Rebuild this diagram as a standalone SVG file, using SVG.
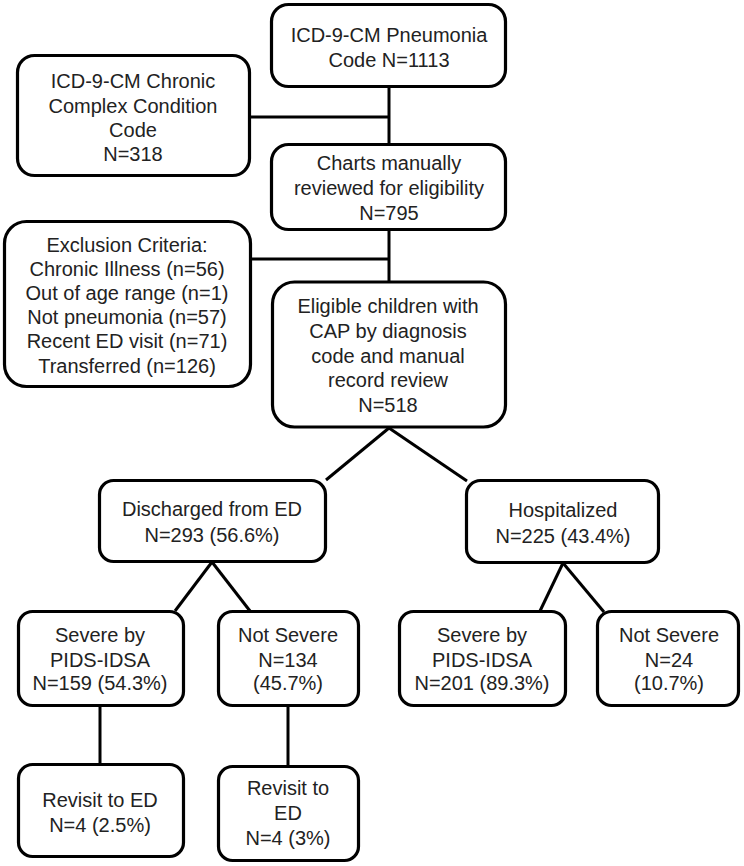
<svg xmlns="http://www.w3.org/2000/svg" width="744" height="866" viewBox="0 0 744 866">
<style>
.box{fill:#fff;stroke:#000;stroke-width:3.2}
.c{stroke:#000;stroke-width:3;fill:none}
text{font-family:"Liberation Sans",Arial,sans-serif;font-size:20px;fill:#222;text-anchor:middle}
</style>
<rect width="744" height="866" fill="#fff"/>
<g id="connectors">
<line class="c" x1="389" y1="88" x2="389" y2="144"/>
<line class="c" x1="250" y1="117" x2="389" y2="117"/>
<line class="c" x1="389" y1="230" x2="389" y2="282"/>
<line class="c" x1="251" y1="259" x2="389" y2="259"/>
<line class="c" x1="389" y1="428" x2="326" y2="480"/>
<line class="c" x1="389" y1="428" x2="467" y2="481"/>
<line class="c" x1="212" y1="562" x2="175" y2="611"/>
<line class="c" x1="212" y1="562" x2="250" y2="611"/>
<line class="c" x1="563" y1="563" x2="540" y2="611"/>
<line class="c" x1="563" y1="563" x2="604" y2="612"/>
<line class="c" x1="100" y1="706" x2="100" y2="764"/>
<line class="c" x1="288" y1="706" x2="288" y2="766"/>
</g>
<g id="pneumonia">
<rect class="box" x="271.5" y="4.5" width="234" height="82" rx="17"/>
<text x="389" y="42">ICD-9-CM Pneumonia</text>
<text x="389" y="67">Code N=1113</text>
</g>
<g id="chronic">
<rect class="box" x="17.5" y="55.5" width="232" height="120" rx="17"/>
<text x="133" y="88">ICD-9-CM Chronic</text>
<text x="133" y="113">Complex Condition</text>
<text x="133" y="137">Code</text>
<text x="133" y="161">N=318</text>
</g>
<g id="charts">
<rect class="box" x="271.5" y="144.5" width="234" height="85" rx="17"/>
<text x="389" y="170">Charts manually</text>
<text x="389" y="195">reviewed for eligibility</text>
<text x="389" y="220">N=795</text>
</g>
<g id="exclusion">
<rect class="box" x="4.5" y="221.5" width="246" height="165" rx="22"/>
<text x="127" y="252">Exclusion Criteria:</text>
<text x="127" y="276">Chronic Illness (n=56)</text>
<text x="127" y="300">Out of age range (n=1)</text>
<text x="127" y="324">Not pneumonia (n=57)</text>
<text x="127" y="348">Recent ED visit (n=71)</text>
<text x="127" y="373">Transferred (n=126)</text>
</g>
<g id="eligible">
<rect class="box" x="272.5" y="282" width="233" height="145" rx="22"/>
<text x="388" y="313">Eligible children with</text>
<text x="388" y="338">CAP by diagnosis</text>
<text x="388" y="363">code and manual</text>
<text x="388" y="387">record review</text>
<text x="388" y="412">N=518</text>
</g>
<g id="discharged">
<rect class="box" x="99.5" y="480.5" width="226" height="81" rx="14"/>
<text x="212" y="516">Discharged from ED</text>
<text x="212" y="542">N=293 (56.6%)</text>
</g>
<g id="hospitalized">
<rect class="box" x="466.5" y="480.5" width="192" height="82" rx="14"/>
<text x="563" y="517">Hospitalized</text>
<text x="563" y="543">N=225 (43.4%)</text>
</g>
<g id="severe-discharged">
<rect class="box" x="18.5" y="611.5" width="165" height="94" rx="14"/>
<text x="100" y="642">Severe by</text>
<text x="100" y="667">PIDS-IDSA</text>
<text x="100" y="690">N=159 (54.3%)</text>
</g>
<g id="notsevere-discharged">
<rect class="box" x="218.5" y="611.5" width="140" height="94" rx="14"/>
<text x="288" y="642">Not Severe</text>
<text x="288" y="667">N=134</text>
<text x="288" y="690">(45.7%)</text>
</g>
<g id="severe-hospitalized">
<rect class="box" x="399.5" y="611.5" width="166" height="94" rx="14"/>
<text x="482" y="642">Severe by</text>
<text x="482" y="667">PIDS-IDSA</text>
<text x="482" y="690">N=201 (89.3%)</text>
</g>
<g id="notsevere-hospitalized">
<rect class="box" x="597.5" y="611.5" width="141" height="94" rx="14"/>
<text x="669" y="642">Not Severe</text>
<text x="669" y="667">N=24</text>
<text x="669" y="690">(10.7%)</text>
</g>
<g id="revisit-severe">
<rect class="box" x="18.5" y="764.5" width="165" height="92" rx="14"/>
<text x="100" y="807">Revisit to ED</text>
<text x="100" y="832">N=4 (2.5%)</text>
</g>
<g id="revisit-notsevere">
<rect class="box" x="218.5" y="766.5" width="140" height="94" rx="14"/>
<text x="288" y="795">Revisit to</text>
<text x="288" y="820">ED</text>
<text x="288" y="845">N=4 (3%)</text>
</g>
</svg>
